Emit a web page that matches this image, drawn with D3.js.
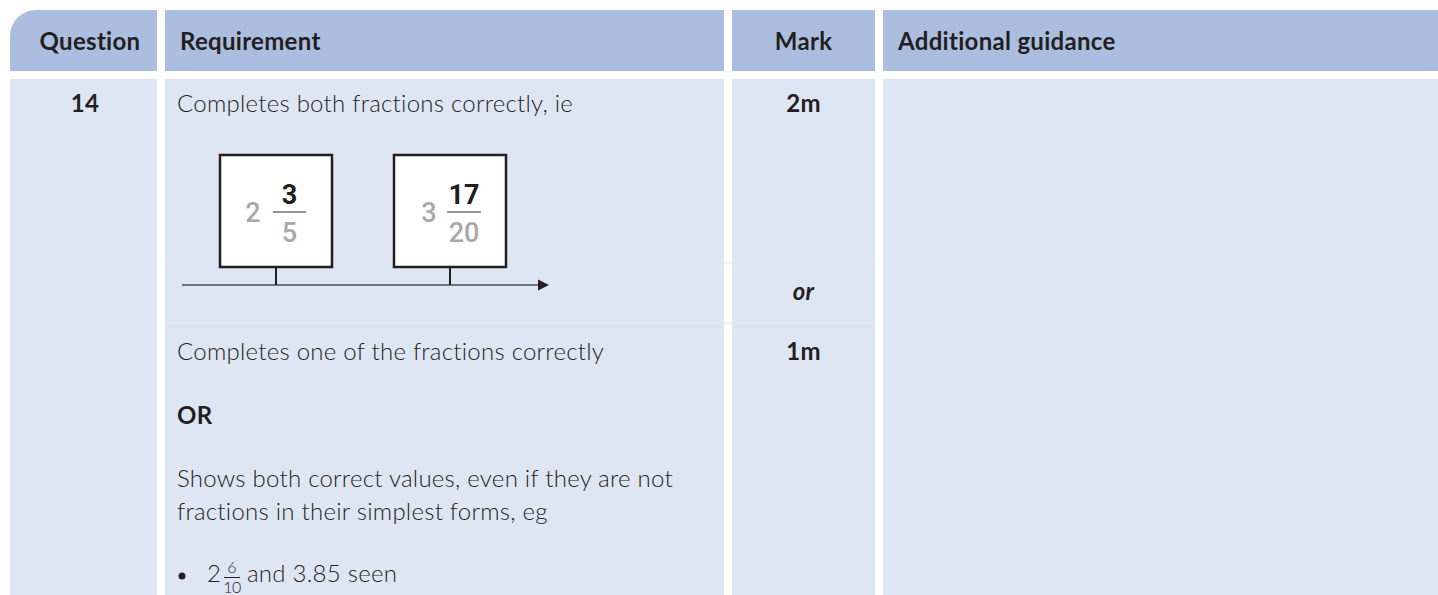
<!DOCTYPE html>
<html lang="en">

<head>
    <meta charset="utf-8">
    <title>Mark scheme - question 14</title>
    <script type="text/javascript" src="https://d3js.org/d3.v7.min.js"></script>
    <style type="text/css">
        body {
            margin: 0;
            background: #ffffff;
        }

        .head {
            font-family: Lato, sans-serif;
            font-weight: 700;
            font-size: 24px;
            letter-spacing: 0.3px;
            fill: #231f20;
        }

        .body-text {
            font-family: Lato, sans-serif;
            font-weight: 300;
            font-size: 24px;
            letter-spacing: 0.25px;
            fill: #231f20;
        }

        .bold {
            font-weight: 700;
        }

        .digits {
            font-family: Roboto, "Liberation Sans", sans-serif;
            font-size: 27px;
        }
    </style>
</head>

<body>
    <script type="text/javascript">

        // table content
        var headers = ["Question", "Requirement", "Mark", "Additional guidance"];
        var questionNumber = "14";
        var requirementLines = [
            "Completes both fractions correctly, ie",
            "Completes one of the fractions correctly",
            "OR",
            "Shows both correct values, even if they are not",
            "fractions in their simplest forms, eg"
        ];
        var marks = ["2m", "or", "1m"];

        // the two completed boxes on the number line
        var wholes = [2, 3];
        var numerators = [3, 17];
        var denominators = [5, 20];
        var boxValues = [2.6, 3.85];

        // the example in the bullet
        var bulletWhole = 2;
        var bulletFraction = [6, 10];
        var bulletRest = "and 3.85 seen";

        // global constants
        var w = 1438;
        var h = 595;
        var colX = [10, 165, 732, 883];
        var colRight = [157, 724, 875, 1438];
        var headTop = 10, headBottom = 71, rowTop = 79;
        var headFill = "#abbee0";
        var rowFill = "#dfe6f3";
        var grey = "#a7a9ac";
        var dark = "#231f20";

        var svg = d3.select("body")
            .append("svg")
            .attr("width", w)
            .attr("height", h);

        // header cells, first one with a rounded top-left corner
        var r = 26;
        svg.selectAll("path.headcell")
            .data(headers)
            .enter()
            .append("path")
            .attr("class", "headcell")
            .attr("fill", headFill)
            .attr("d", function (d, i) {
                var p = d3.path();
                var x0 = colX[i], x1 = colRight[i];
                if (i === 0) {
                    p.moveTo(x0, headBottom);
                    p.lineTo(x0, headTop + r);
                    p.arcTo(x0, headTop, x0 + r, headTop, r);
                } else {
                    p.moveTo(x0, headBottom);
                    p.lineTo(x0, headTop);
                }
                p.lineTo(x1, headTop);
                p.lineTo(x1, headBottom);
                p.closePath();
                return p.toString();
            });

        // body cells
        svg.selectAll("rect.rowcell")
            .data(headers)
            .enter()
            .append("rect")
            .attr("class", "rowcell")
            .attr("fill", rowFill)
            .attr("x", function (d, i) { return colX[i]; })
            .attr("y", rowTop)
            .attr("width", function (d, i) { return colRight[i] - colX[i]; })
            .attr("height", h - rowTop);

        // very faint inner row lines
        [263, 323].forEach(function (y) {
            svg.append("line")
                .attr("x1", colX[1]).attr("x2", colRight[2])
                .attr("y1", y).attr("y2", y)
                .attr("stroke", "#e3e9f5")
                .attr("stroke-width", 1);
        });

        // header labels
        var headX = [90, 180, (colX[2] + colRight[2]) / 2, 898];
        var headAnchor = ["middle", "start", "middle", "start"];
        svg.selectAll("text.head")
            .data(headers)
            .enter()
            .append("text")
            .attr("class", "head")
            .attr("x", function (d, i) { return headX[i]; })
            .attr("y", 50)
            .attr("text-anchor", function (d, i) { return headAnchor[i]; })
            .text(function (d) { return d; });

        // question number
        svg.append("text")
            .attr("class", "body-text bold")
            .attr("x", 85)
            .attr("y", 112)
            .attr("text-anchor", "middle")
            .text(questionNumber);

        // requirement text
        var reqY = [112, 360, 424, 487, 520];
        svg.selectAll("text.req")
            .data(requirementLines)
            .enter()
            .append("text")
            .attr("class", function (d) { return d === "OR" ? "req body-text bold" : "req body-text"; })
            .attr("x", 177)
            .attr("y", function (d, i) { return reqY[i]; })
            .text(function (d) { return d; });

        // marks
        var markY = [112, 300, 360];
        svg.selectAll("text.mark")
            .data(marks)
            .enter()
            .append("text")
            .attr("class", "mark body-text bold")
            .attr("x", (colX[2] + colRight[2]) / 2)
            .attr("y", function (d, i) { return markY[i]; })
            .attr("text-anchor", "middle")
            .style("font-style", function (d) { return d === "or" ? "italic" : "normal"; })
            .text(function (d) { return d; });

        // number line
        var xScale = d3.scaleLinear()
            .domain(boxValues)
            .range([276, 450]);
        var lineY = 285;
        var lineStart = xScale.invert(182);
        var lineEnd = xScale.invert(549);

        svg.append("line")
            .attr("x1", xScale(lineStart))
            .attr("x2", xScale(lineEnd) - 8)
            .attr("y1", lineY)
            .attr("y2", lineY)
            .attr("stroke", "#4d4d4f")
            .attr("stroke-width", 1.5);

        svg.append("path")
            .attr("d", "M" + xScale(lineEnd) + "," + lineY +
                "L" + (xScale(lineEnd) - 11) + "," + (lineY - 5.5) +
                "L" + (xScale(lineEnd) - 11) + "," + (lineY + 5.5) + "Z")
            .attr("fill", dark);

        var boxSize = 112;
        var boxTop = 155;
        var boxes = svg.selectAll("g.box")
            .data(boxValues)
            .enter()
            .append("g")
            .attr("class", "box");

        boxes.append("line")
            .attr("x1", function (d) { return xScale(d); })
            .attr("x2", function (d) { return xScale(d); })
            .attr("y1", boxTop + boxSize)
            .attr("y2", lineY)
            .attr("stroke", dark)
            .attr("stroke-width", 2);

        boxes.append("rect")
            .attr("x", function (d) { return xScale(d) - boxSize / 2; })
            .attr("y", boxTop)
            .attr("width", boxSize)
            .attr("height", boxSize)
            .attr("fill", "#ffffff")
            .attr("stroke", dark)
            .attr("stroke-width", 2.5);

        // whole number
        boxes.append("text")
            .attr("class", "digits")
            .attr("x", function (d, i) { return xScale(d) - (i === 0 ? 23 : 21); })
            .attr("y", 222)
            .attr("text-anchor", "middle")
            .attr("fill", grey)
            .style("font-weight", 500)
            .text(function (d, i) { return wholes[i]; });

        // fraction bar
        var barHalf = [16.5, 17];
        var fracOffset = [13.5, 14];
        boxes.append("line")
            .attr("x1", function (d, i) { return xScale(d) + fracOffset[i] - barHalf[i]; })
            .attr("x2", function (d, i) { return xScale(d) + fracOffset[i] + barHalf[i]; })
            .attr("y1", 212)
            .attr("y2", 212)
            .attr("stroke", "#939598")
            .attr("stroke-width", 2);

        // numerator
        boxes.append("text")
            .attr("class", "digits")
            .attr("x", function (d, i) { return xScale(d) + fracOffset[i]; })
            .attr("y", 204)
            .attr("text-anchor", "middle")
            .attr("fill", dark)
            .style("font-weight", 700)
            .text(function (d, i) { return numerators[i]; });

        // denominator
        boxes.append("text")
            .attr("class", "digits")
            .attr("x", function (d, i) { return xScale(d) + fracOffset[i]; })
            .attr("y", 242)
            .attr("text-anchor", "middle")
            .attr("fill", grey)
            .style("font-weight", 500)
            .text(function (d, i) { return denominators[i]; });

        // bullet example
        svg.append("circle")
            .attr("cx", 182)
            .attr("cy", 576)
            .attr("r", 3.5)
            .attr("fill", dark);

        svg.append("text")
            .attr("class", "body-text")
            .attr("x", 207)
            .attr("y", 582)
            .text(bulletWhole);

        svg.append("text")
            .attr("class", "body-text")
            .attr("x", 232)
            .attr("y", 573)
            .attr("text-anchor", "middle")
            .style("font-size", "16px")
            .style("letter-spacing", "0px")
            .text(bulletFraction[0]);

        svg.append("line")
            .attr("x1", 224)
            .attr("x2", 240)
            .attr("y1", 577.5)
            .attr("y2", 577.5)
            .attr("stroke", dark)
            .attr("stroke-width", 1);

        svg.append("text")
            .attr("class", "body-text")
            .attr("x", 232)
            .attr("y", 593)
            .attr("text-anchor", "middle")
            .style("font-size", "16px")
            .style("letter-spacing", "-0.5px")
            .text(bulletFraction[1]);

        svg.append("text")
            .attr("class", "body-text")
            .attr("x", 247)
            .attr("y", 582)
            .text(bulletRest);
    </script>
</body>

</html>
